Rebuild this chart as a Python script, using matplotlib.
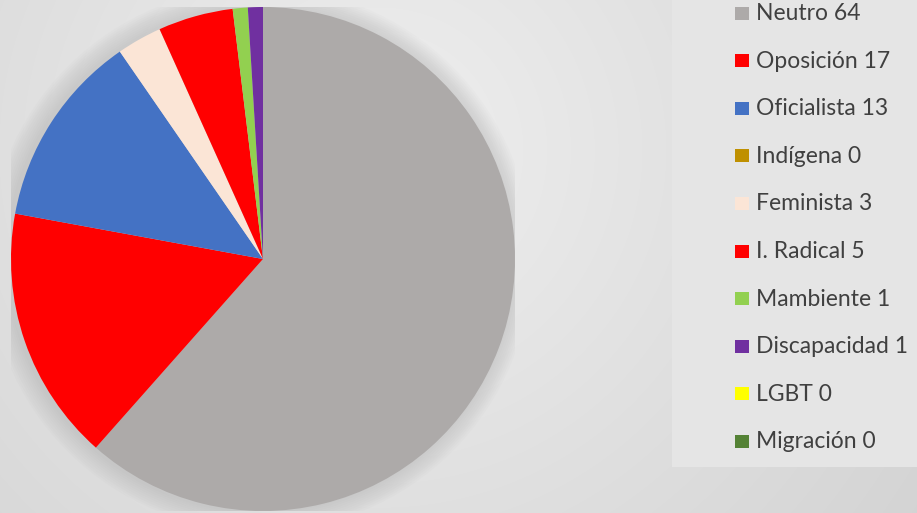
import numpy as np
import matplotlib
matplotlib.use("Agg")
import matplotlib.pyplot as plt
from matplotlib.patches import Rectangle, Circle

categories = ["Neutro", "Oposición", "Oficialista", "Indígena", "Feminista",
              "I. Radical", "Mambiente", "Discapacidad", "LGBT", "Migración"]
values = [64, 17, 13, 0, 3, 5, 1, 1, 0, 0]
colors = ["#ADAAA9", "#FF0000", "#4472C4", "#BF9000", "#FBE5D6",
          "#FF0000", "#92D050", "#7030A0", "#FFFF00", "#548235"]

W, H = 917, 513
fig = plt.figure(figsize=(W / 100, H / 100), dpi=100)

# background radial gradient
bg = fig.add_axes([0, 0, 1, 1])
yy, xx = np.mgrid[0:H, 0:W]
d = np.hypot(xx - 380, yy - 150)
g = np.clip(239 - 0.042 * d, 200, 245) / 255.0
bg.imshow(np.dstack([g, g, g]), extent=[0, W, H, 0], aspect="auto", zorder=0)
bg.set_xlim(0, W)
bg.set_ylim(H, 0)
bg.axis("off")

# legend box
bg.add_patch(Rectangle((672, 0), W - 672, 467, facecolor="#E5E5E5",
                       edgecolor="none", zorder=1))

# pie
cx, cy, r = 263, 259, 252
ax = fig.add_axes([(cx - r) / W, (H - cy - r) / H, 2 * r / W, 2 * r / H])
ax.set_xlim(-1, 1)
ax.set_ylim(-1, 1)
ax.set_aspect("equal")
ax.axis("off")
for k in range(10):
    ax.add_patch(Circle((-0.012, 0.0), 1.0 + 0.008 * (k + 1), facecolor="#707070",
                        edgecolor="none", alpha=0.018, zorder=0))
ax.pie(values, colors=colors, startangle=90, counterclock=False, radius=1.0,
       wedgeprops=dict(linewidth=0), frame=False)
ax.set_xlim(-1, 1)
ax.set_ylim(-1, 1)

# legend entries
y0, dy = 13, 47.6
for i, (cat, val, col) in enumerate(zip(categories, values, colors)):
    yc = y0 + i * dy
    bg.add_patch(Rectangle((735, yc - 6.5), 14, 13, facecolor=col,
                           edgecolor="none", zorder=2))
    bg.text(756, yc + 0.5, f"{cat} {val}", fontsize=16.5, color="#404040",
            va="center", ha="left", family=["Lato", "DejaVu Sans"], zorder=3)

fig.savefig("out.png", dpi=100)
